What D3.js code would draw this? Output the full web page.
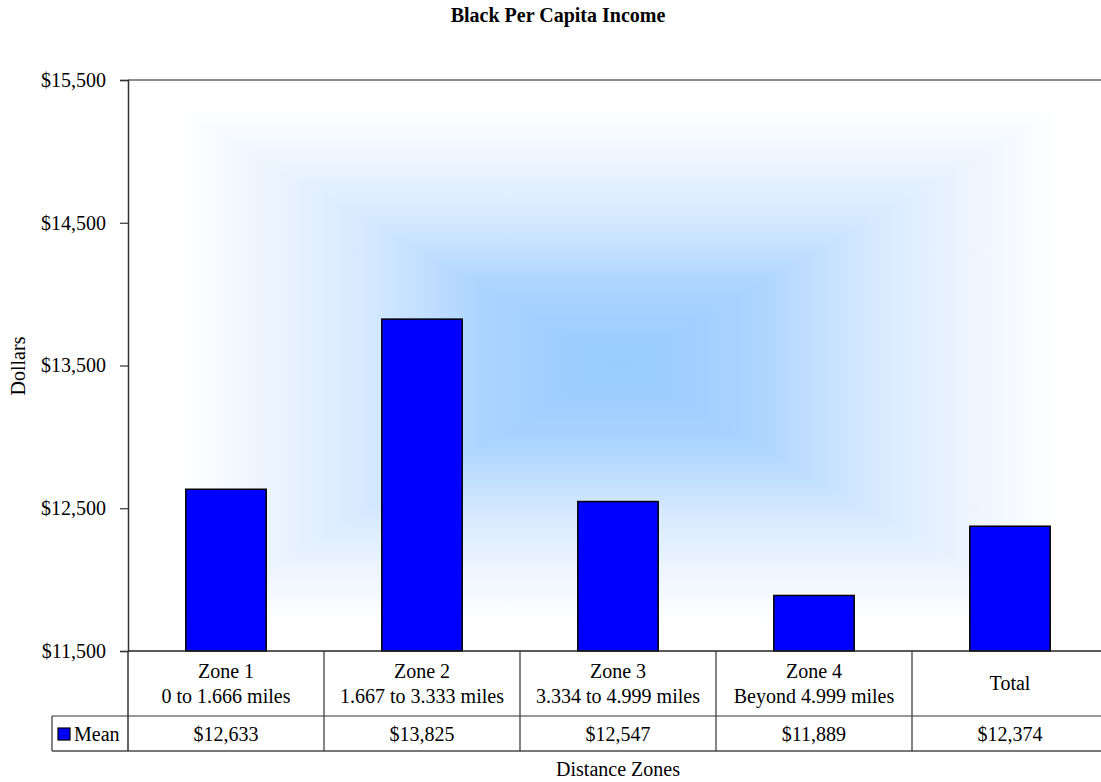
<!DOCTYPE html>
<html>
<head>
<meta charset="utf-8">
<script src="https://cdn.jsdelivr.net/npm/d3@7"></script>
<style>
  html, body { margin: 0; padding: 0; background: #ffffff; overflow: hidden; }
  svg { display: block; font-family: "Liberation Serif", "Times New Roman", serif; }
</style>
</head>
<body>
<svg id="chart" width="1101" height="782"></svg>
<script>
// ---- data ----
const categories = ["Zone 1", "Zone 2", "Zone 3", "Zone 4", "Total"];
const categoryLine1 = ["Zone 1", "Zone 2", "Zone 3", "Zone 4", "Total"];
const categoryLine2 = ["0 to 1.666 miles", "1.667 to 3.333 miles", "3.334 to 4.999 miles", "Beyond 4.999 miles", ""];
const meanValues = [12633, 13825, 12547, 11889, 12374];
const meanLabels = ["$12,633", "$13,825", "$12,547", "$11,889", "$12,374"];
const yTicks = [11500, 12500, 13500, 14500, 15500];
const seriesName = "Mean";
const titleText = "Black Per Capita Income";
const yTitle = "Dollars";
const xTitle = "Distance Zones";

// ---- layout ----
const svg = d3.select("#chart");
const pLeft = 128, pRight = 1108, pTop = 80, pBottom = 651;
const row1Bottom = 716, row2Bottom = 751, legendLeft = 52;
const fs = 20;

const x = d3.scaleBand().domain(categories).range([pLeft, pRight]).paddingInner(0.59).paddingOuter(0.295);
const y = d3.scaleLinear().domain([11500, 15500]).range([pBottom, pTop]);
const step = x.step();

// ---- background: rectangular "from centre" gradient ----
const defs = svg.append("defs");
const cx = (pLeft + pRight) / 2, cy = (pTop + pBottom) / 2;
const stops = [
  [0, "#99ccff"], [0.15, "#a0cfff"], [0.28, "#acd4ff"], [0.4, "#c2dfff"],
  [0.5, "#d3e8ff"], [0.63, "#e4f0ff"], [0.78, "#f3f8ff"], [0.9, "#ffffff"], [1, "#ffffff"]
];
function grad(id, x1, y1, x2, y2) {
  const g = defs.append("linearGradient").attr("id", id)
    .attr("gradientUnits", "userSpaceOnUse")
    .attr("x1", x1).attr("y1", y1).attr("x2", x2).attr("y2", y2);
  stops.forEach(s => g.append("stop").attr("offset", s[0]).attr("stop-color", s[1]));
}
grad("gTop", cx, cy, cx, pTop);
grad("gBot", cx, cy, cx, pBottom);
grad("gLeft", cx, cy, pLeft, cy);
grad("gRight", cx, cy, pRight, cy);
defs.append("clipPath").attr("id", "plotClip").append("rect")
  .attr("x", pLeft).attr("y", pTop).attr("width", pRight - pLeft).attr("height", pBottom - pTop);
const bg = svg.append("g").attr("clip-path", "url(#plotClip)");
const o = 0.6;
bg.append("polygon").attr("points", `${cx},${cy+o} ${pLeft-o},${pTop-o} ${pRight+o},${pTop-o}`).attr("fill", "url(#gTop)");
bg.append("polygon").attr("points", `${cx},${cy-o} ${pLeft-o},${pBottom+o} ${pRight+o},${pBottom+o}`).attr("fill", "url(#gBot)");
bg.append("polygon").attr("points", `${cx+o},${cy} ${pLeft-o},${pTop-o} ${pLeft-o},${pBottom+o}`).attr("fill", "url(#gLeft)");
bg.append("polygon").attr("points", `${cx-o},${cy} ${pRight+o},${pTop-o} ${pRight+o},${pBottom+o}`).attr("fill", "url(#gRight)");

// ---- top border ----
svg.append("line").attr("x1", pLeft).attr("x2", pRight).attr("y1", pTop).attr("y2", pTop)
  .attr("stroke", "#8c8c8c").attr("stroke-width", 2);

// ---- y axis ----
const yAxis = d3.axisLeft(y).tickValues(yTicks).tickSize(8).tickPadding(14)
  .tickFormat(d => "$" + d3.format(",")(d));
const ya = svg.append("g").attr("transform", `translate(${pLeft},0)`).call(yAxis);
ya.attr("font-family", null);
ya.select(".domain").attr("stroke", "#333").attr("stroke-width", 1.5);
ya.selectAll(".tick line").attr("stroke", "#333").attr("stroke-width", 1.2);
ya.selectAll(".tick text").attr("font-family", "Liberation Serif, Times New Roman, serif")
  .attr("font-size", fs).attr("fill", "#000");

// ---- bars ----
svg.append("g").selectAll("rect").data(categories).join("rect")
  .attr("x", d => x(d)).attr("width", x.bandwidth())
  .attr("y", (d, i) => y(meanValues[i]))
  .attr("height", (d, i) => y(11500) - y(meanValues[i]))
  .attr("fill", "#0000ff").attr("stroke", "#000").attr("stroke-width", 1.5);

// ---- data table ----
const tbl = svg.append("g");
tbl.append("line").attr("x1", pLeft).attr("x2", pRight).attr("y1", pBottom).attr("y2", pBottom)
  .attr("stroke", "#222").attr("stroke-width", 1.5);
tbl.append("line").attr("x1", legendLeft).attr("x2", pRight).attr("y1", row1Bottom).attr("y2", row1Bottom)
  .attr("stroke", "#333").attr("stroke-width", 1.2);
tbl.append("line").attr("x1", legendLeft).attr("x2", pRight).attr("y1", row2Bottom).attr("y2", row2Bottom)
  .attr("stroke", "#777").attr("stroke-width", 2);
tbl.append("line").attr("x1", pLeft).attr("x2", pLeft).attr("y1", pBottom).attr("y2", row2Bottom)
  .attr("stroke", "#333").attr("stroke-width", 1.5);
tbl.append("line").attr("x1", legendLeft).attr("x2", legendLeft).attr("y1", row1Bottom).attr("y2", row2Bottom)
  .attr("stroke", "#333").attr("stroke-width", 1.2);
const sepX = d => x(d) - (step - x.bandwidth()) / 2;
tbl.selectAll("line.sep").data(categories.slice(1)).join("line").attr("class", "sep")
  .attr("x1", sepX).attr("x2", sepX)
  .attr("y1", pBottom).attr("y2", row2Bottom)
  .attr("stroke", "#333").attr("stroke-width", 1.2);

const cxOf = d => x(d) + x.bandwidth() / 2;
tbl.selectAll("text.l1").data(categories).join("text").attr("class", "l1")
  .attr("x", cxOf)
  .attr("y", (d, i) => categoryLine2[i] ? 678 : 690)
  .attr("text-anchor", "middle").attr("font-size", fs)
  .text((d, i) => categoryLine1[i]);
tbl.selectAll("text.l2").data(categories).join("text").attr("class", "l2")
  .attr("x", cxOf).attr("y", 703)
  .attr("text-anchor", "middle").attr("font-size", fs)
  .text((d, i) => categoryLine2[i]);
tbl.selectAll("text.val").data(categories).join("text").attr("class", "val")
  .attr("x", cxOf).attr("y", 741)
  .attr("text-anchor", "middle").attr("font-size", fs)
  .text((d, i) => meanLabels[i]);

// legend key
tbl.append("rect").attr("x", 58).attr("y", 728).attr("width", 12).attr("height", 12)
  .attr("fill", "#0000ff").attr("stroke", "#000").attr("stroke-width", 1.2);
tbl.append("text").attr("x", 74).attr("y", 741).attr("font-size", fs).text(seriesName);

// ---- titles ----
svg.append("text").attr("x", 558).attr("y", 22).attr("text-anchor", "middle")
  .attr("font-size", 20).attr("font-weight", "bold").text(titleText);
svg.append("text").attr("transform", "translate(25,366) rotate(-90)")
  .attr("text-anchor", "middle").attr("font-size", fs).text(yTitle);
svg.append("text").attr("x", 618).attr("y", 776).attr("text-anchor", "middle")
  .attr("font-size", fs).text(xTitle);
</script>
</body>
</html>
